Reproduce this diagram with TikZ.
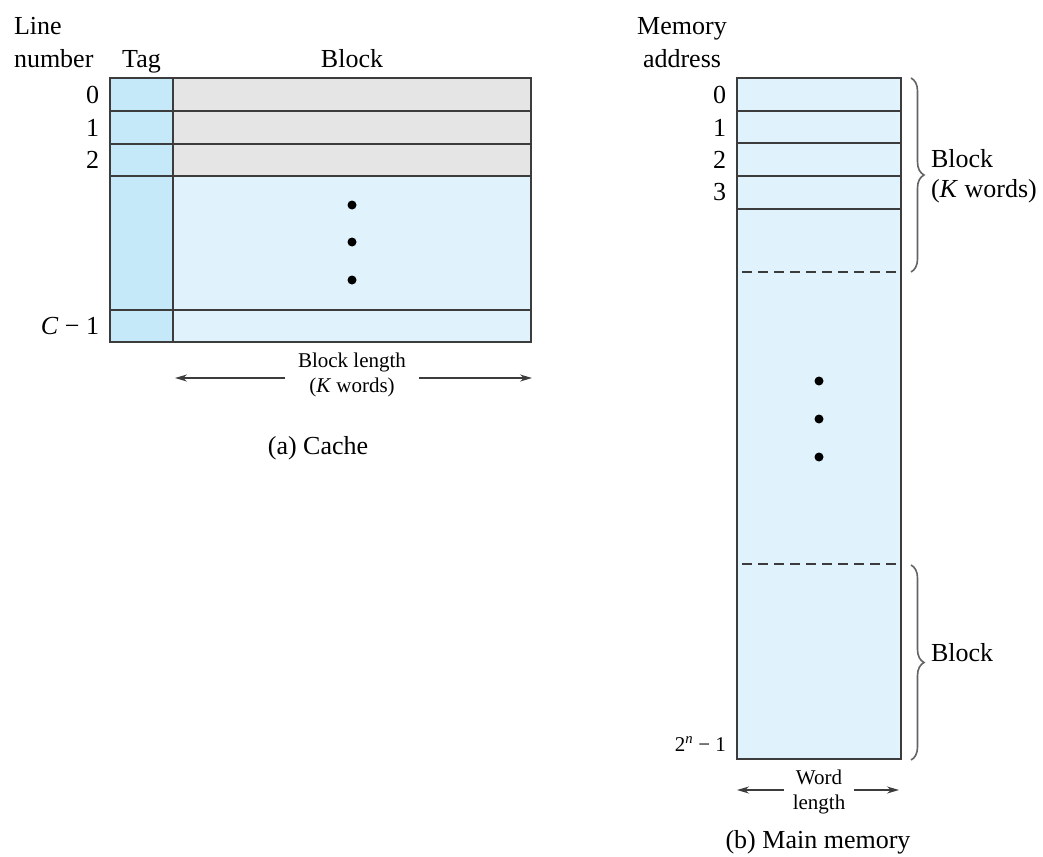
\documentclass[tikz,border=0pt]{standalone}
\usepackage{fontspec}
\setmainfont{Liberation Serif}
\usetikzlibrary{decorations.pathreplacing, arrows.meta}
\definecolor{tagblue}{HTML}{C6E9FA}
\definecolor{lineblue}{HTML}{E0F2FC}
\definecolor{blockgray}{HTML}{E5E5E5}
\definecolor{rulegray}{HTML}{3C3C3C}

\begin{document}
\begin{tikzpicture}[x=1pt, y=-1pt, line width=2pt,
  font=\fontsize{26}{30}\selectfont,
  every node/.style={inner sep=1pt},
  small/.style={font=\fontsize{21}{25}\selectfont},
  cell/.style={draw=rulegray},
  lbl/.style={anchor=east},
  dimarrow/.style={-{Stealth[length=12pt, width=7pt]}, line width=1.5pt, draw=rulegray},
  brc/.style={decorate, decoration={brace, amplitude=13pt, aspect=0.5}, draw=rulegray!80, line width=1.6pt}]
  \useasboundingbox (0,0) rectangle (1043,856);

  % (a) cache
  \fill[tagblue] (110,78) rectangle (173,342);
  \fill[blockgray] (173,78) rectangle (531,176);
  \fill[lineblue] (173,176) rectangle (531,342);
  \draw[cell] (110,78) rectangle (531,342);
  \draw[cell] (173,78) -- (173,342);
  \foreach \y in {111,144,176,310}
    \draw[cell] (110,\y) -- (531,\y);
  \foreach \y in {205,242,280}
    \fill (352,\y) circle (4.5pt);

  \node[anchor=base west] (hline) at (12,35) {Line};
  \node[anchor=base west] (hnum) at (12,68) {number};
  \node[anchor=base] (htag) at (141.5,68) {Tag};
  \node[anchor=base] (hblock) at (352,68) {Block};

  \node[lbl] (c0) at (101,95) {0};
  \node[lbl] (c1) at (101,128) {1};
  \node[lbl] (c2) at (101,160) {2};
  \node[lbl] (clast) at (101,326) {\textit{C} − 1};

  \node[small, align=center, inner sep=12pt] (blen) at (352,375) {Block length\\(\textit{K} words)};
  \coordinate (bl) at (175,378);
  \coordinate (br) at (532,378);
  \draw[dimarrow] (blen.west |- bl) -- (bl);
  \draw[dimarrow] (blen.east |- br) -- (br);
  \node (capa) at (318,448) {(a) Cache};

  % (b) main memory
  \fill[lineblue] (737,78) rectangle (901,759);
  \draw[cell] (737,78) rectangle (901,759);
  \foreach \y in {111,143,176,209}
    \draw[cell] (737,\y) -- (901,\y);
  \foreach \y in {272,564}
    \draw[cell, dash pattern=on 10pt off 6pt] (742,\y) -- (901,\y);
  \foreach \y in {381,419,457}
    \fill (819,\y) circle (4.5pt);

  \node[anchor=base] (hmem) at (682,35) {Memory};
  \node[anchor=base] (haddr) at (682,68) {address};

  \node[lbl] (m0) at (728,95) {0};
  \node[lbl] (m1) at (728,127.5) {1};
  \node[lbl] (m2) at (728,159.5) {2};
  \node[lbl] (m3) at (728,192) {3};
  \node[lbl, small] (mlast) at (728,744) {2\textsuperscript{\textit{n}} − 1};

  \draw[brc] (911,78) -- (911,272);
  \draw[brc] (911,565) -- (911,760);
  \node[anchor=west, align=left] (bk) at (929,176) {Block\\(\textit{K} words)};
  \node[anchor=west] (bone) at (929,653) {Block};

  \node[small, align=center, inner sep=8pt] (wlen) at (819,792) {Word\\length};
  \coordinate (wl) at (737,790);
  \coordinate (wr) at (899,790);
  \draw[dimarrow] (wlen.west |- wl) -- (wl);
  \draw[dimarrow] (wlen.east |- wr) -- (wr);
  \node (capb) at (818,842) {(b) Main memory};
\end{tikzpicture}
\end{document}
